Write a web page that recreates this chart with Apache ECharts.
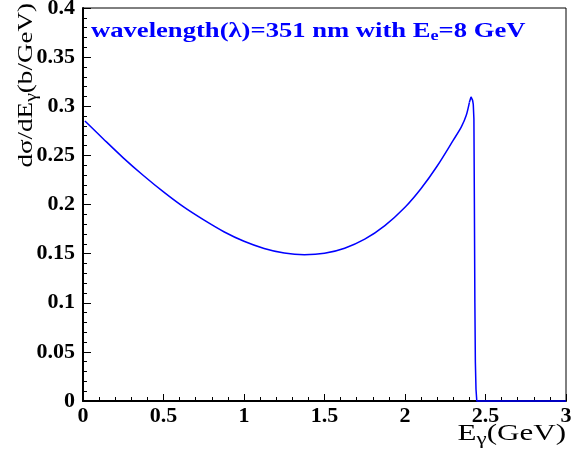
<!DOCTYPE html>
<html>
<head>
<meta charset="utf-8">
<script src="https://cdn.jsdelivr.net/npm/echarts@6/dist/echarts.min.js"></script>
<style>
html,body{margin:0;padding:0;background:#fff;}
#chart{width:571px;height:457px;}
</style>
</head>
<body>
<div id="chart"></div>
<script>
// photon energy E_gamma (GeV)
const energy = [0.012, 0.125, 0.25, 0.375, 0.5, 0.625, 0.75, 0.875, 1.0, 1.125, 1.25, 1.375, 1.5, 1.625, 1.75, 1.875, 2.0, 2.1, 2.2, 2.3, 2.35, 2.38, 2.4, 2.41, 2.415, 2.42, 2.424, 2.428, 2.431, 2.434, 2.437, 2.441, 2.446, 3.0];
// dsigma/dE_gamma (b/GeV)
const sigma = [0.285, 0.267, 0.2475, 0.2295, 0.2128, 0.1975, 0.1843, 0.1723, 0.1626, 0.1553, 0.1506, 0.1489, 0.1503, 0.1555, 0.1647, 0.1785, 0.1972, 0.2163, 0.2392, 0.2655, 0.279, 0.2905, 0.304, 0.3095, 0.309, 0.306, 0.302, 0.287, 0.2, 0.1, 0.04, 0.012, 0, 0];
const xTicks = ['0', '0.5', '1', '1.5', '2', '2.5', '3'];
const yTicks = ['0', '0.05', '0.1', '0.15', '0.2', '0.25', '0.3', '0.35', '0.4'];
const annotation = 'wavelength(λ)=351 nm with E{sub|e}=8 GeV';
const xTitle = 'E{sub|γ}(GeV)';
const yTitle = 'dσ/dE{sub|γ}(b/GeV)';

const points = energy.map((e, i) => [e, sigma[i]]);
const splitAt = energy.indexOf(2.4);
const smoothPart = points.slice(0, splitAt + 1);
const edgePart = points.slice(splitAt);
const serif = 'Liberation Serif';

const lineBase = {
  type: 'line', showSymbol: false, clip: false,
  lineStyle: {color: '#0000ff', width: 1.5},
  itemStyle: {color: '#0000ff'}, z: 5
};

const chart = echarts.init(document.getElementById('chart'));
chart.setOption({
  animation: false,
  backgroundColor: '#fff',
  grid: {left: 83, right: 5, top: 8, bottom: 56, show: true, borderColor: '#000', borderWidth: 1, backgroundColor: 'transparent', outerBoundsMode: 'none', containLabel: false},
  xAxis: {
    type: 'value', min: 0, max: 3, interval: 0.5,
    axisLine: {show: true, onZero: false, lineStyle: {color: '#000', width: 2}},
    axisTick: {show: true, inside: true, length: 7, lineStyle: {color: '#000', width: 1}},
    minorTick: {show: true, splitNumber: 5, length: 4, lineStyle: {color: '#000', width: 1}},
    splitLine: {show: false},
    axisLabel: {
      margin: 4, color: '#000', fontFamily: serif, fontWeight: 'bold', fontSize: 22,
      hideOverlap: false,
      formatter: (v) => xTicks[Math.round(v / 0.5)]
    }
  },
  yAxis: {
    type: 'value', min: 0, max: 0.4, interval: 0.05,
    axisLine: {show: true, lineStyle: {color: '#000', width: 2}},
    axisTick: {show: true, inside: true, length: 8, lineStyle: {color: '#000', width: 1}},
    minorTick: {show: true, splitNumber: 5, length: 4, lineStyle: {color: '#000', width: 1}},
    splitLine: {show: false},
    axisLabel: {
      margin: 8, color: '#000', fontFamily: serif, fontWeight: 'bold', fontSize: 22,
      hideOverlap: false,
      formatter: (v) => yTicks[Math.round(v / 0.05)]
    }
  },
  series: [
    Object.assign({}, lineBase, {data: smoothPart, smooth: 0.3}),
    Object.assign({}, lineBase, {data: edgePart, smooth: false})
  ],
  graphic: [
    {
      type: 'text', x: 91, y: 31, z: 10, scaleX: 1.21,
      style: {
        text: annotation, fill: '#0000ff', fontFamily: serif, fontWeight: 'bold', fontSize: 22,
        align: 'left', verticalAlign: 'middle',
        rich: {sub: {fill: '#0000ff', fontFamily: serif, fontWeight: 'bold', fontSize: 15, padding: [10, 0, 0, 0]}}
      }
    },
    {
      type: 'text', x: 566, y: 434, z: 10, scaleX: 1.35,
      style: {
        text: xTitle, fill: '#000', fontFamily: serif, fontSize: 23,
        align: 'right', verticalAlign: 'middle',
        rich: {sub: {fill: '#000', fontFamily: serif, fontSize: 17, padding: [12, 0, 0, 0]}}
      }
    },
    {
      type: 'text', x: 26, y: 3, rotation: Math.PI / 2, z: 10, scaleX: 1.23,
      style: {
        text: yTitle, fill: '#000', fontFamily: serif, fontSize: 22,
        align: 'right', verticalAlign: 'middle',
        rich: {sub: {fill: '#000', fontFamily: serif, fontSize: 16, padding: [12, 0, 0, 0]}}
      }
    }
  ]
});
</script>
</body>
</html>
